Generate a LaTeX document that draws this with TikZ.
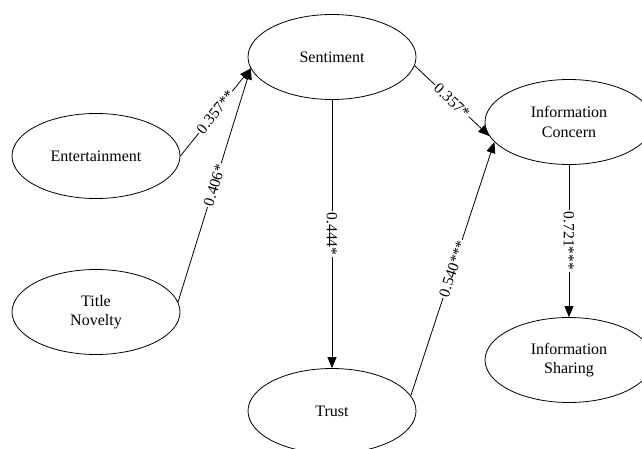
\documentclass[tikz,border=0pt]{standalone}
\usepackage{fontspec}
\setmainfont{Liberation Serif}
\usetikzlibrary{shapes.geometric,arrows.meta}
\begin{document}
\begin{tikzpicture}[x=1pt,y=1pt,
  var/.style={ellipse, draw, line width=0.8pt, minimum width=168pt, minimum height=85pt, inner sep=0pt, align=center, font=\fontsize{16}{19.5}\selectfont},
  conn/.style={line width=0.8pt, -{Triangle[length=11pt,width=9pt]}},
  coef/.style={sloped, midway, fill=white, inner sep=1.5pt, font=\fontsize{15.5}{18}\selectfont}
]
\useasboundingbox (0,0) rectangle (642,448);
\clip (0,0) rectangle (642,448);
\node[var] (sen) at (332,391) {Sentiment};
\node[var] (ent) at (96,292) {Entertainment};
\node[var] (tn) at (96,136) {Title\\Novelty};
\node[var] (trust) at (332,37) {Trust};
\node[var] (ic) at (569,326) {Information\\Concern};
\node[var] (is) at (569,88) {Information\\Sharing};
\draw[conn] (ent.east) -- node[coef]{0.357**} (sen.188);
\draw[conn] (tn.7) -- node[coef]{0.406*} (sen.188);
\draw[conn] (sen.354) -- node[coef]{0.357*} (ic.190);
\draw[conn] (trust.11) -- node[coef]{0.540***} (ic.195);
\draw[conn] (sen.south) -- node[coef]{0.444*} (trust.north);
\draw[conn] (ic.south) -- node[coef]{0.721***} (is.north);
\end{tikzpicture}
\end{document}
